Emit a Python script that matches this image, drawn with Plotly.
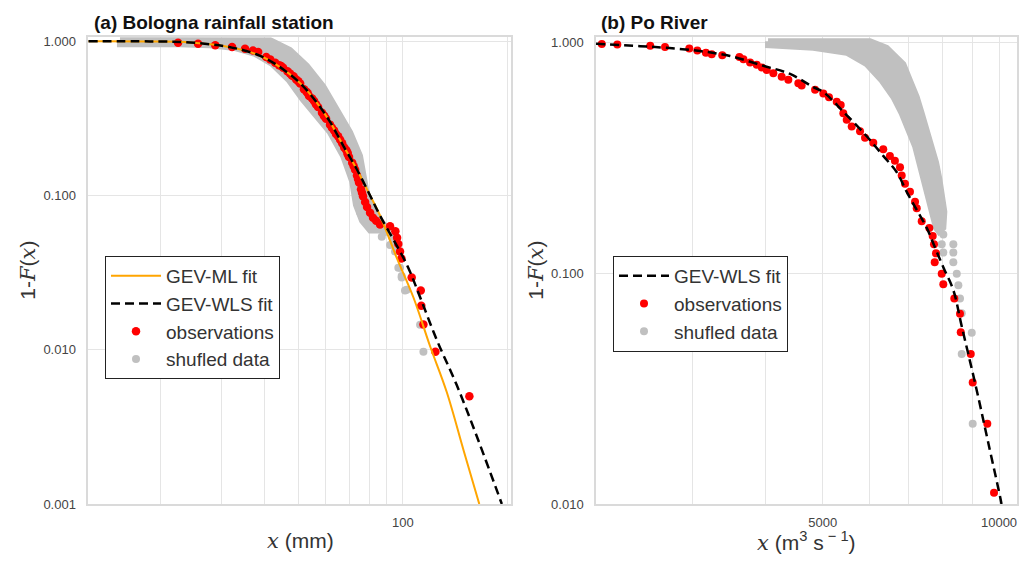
import plotly.graph_objects as go

FONT = "Arial, 'Liberation Sans', sans-serif"

# ---------------- Panel (a): Bologna rainfall station ----------------
obs_a_x = [22.5, 25.7, 28.8, 32.2, 35.1, 37.0, 38.3, 40.4, 41.5, 42.9, 44.0, 44.6, 45.2, 46.5, 47.3, 47.9,
           48.5, 49.3, 50.0, 50.6, 51.9, 52.8, 53.2, 53.7, 54.8, 55.5, 56.2, 57.0, 58.5, 59.2, 59.5,
           60.1, 61.7, 62.5, 63.4, 64.2, 65.1, 66.0, 66.9, 67.8, 68.7, 69.3, 69.4, 70.0, 71.5, 72.2,
           72.9, 73.8, 74.3, 74.8, 75.8, 76.3, 76.8, 77.9, 78.9, 80.5, 82.1, 83.8, 86.0,
           91.9, 95.2, 96.3, 97.1, 98.2, 99.1, 106.1, 112.7, 113.1, 114.7, 124.2, 155.6]
obs_a_y = [0.978, 0.964, 0.943, 0.916, 0.895, 0.870, 0.851, 0.791, 0.760, 0.725, 0.700, 0.690, 0.674, 0.640, 0.617, 0.600,
           0.590, 0.565, 0.550, 0.533, 0.488, 0.470, 0.460, 0.441, 0.425, 0.4095, 0.390, 0.375, 0.3435, 0.330, 0.325,
           0.3147, 0.288, 0.275, 0.264, 0.250, 0.2417, 0.230, 0.218, 0.205, 0.197, 0.190, 0.185, 0.1777, 0.1628, 0.155,
           0.147, 0.1346, 0.128, 0.1215, 0.1096, 0.104, 0.099, 0.0907, 0.0842, 0.0772, 0.0717, 0.0686, 0.0648,
           0.0632, 0.0587, 0.0533, 0.0485, 0.0434, 0.0390, 0.0294, 0.0242, 0.0193, 0.0146, 0.0097, 0.0050]

shuf_a_x = [75.3, 78.8, 82.3, 87.0, 91.9, 95.0, 98.2, 99.3, 101.5, 112.2, 114.7,
            78.8, 84.2, 88.9, 93.0, 94.0, 96.1, 97.1, 99.3, 102.7]
shuf_a_y = [0.078, 0.0707, 0.0626, 0.0541, 0.0478, 0.0434, 0.034, 0.0294, 0.0242, 0.0145, 0.0097,
            0.0763, 0.0656, 0.0579, 0.0541, 0.0504, 0.0455, 0.034, 0.0301, 0.0245]

# outline of the dense cloud of shuffled samples
band_a_x = [15.3, 26.1, 34.0, 41.5, 47.3, 52.9, 59.0, 64.5, 70.5, 75.3, 77.4, 78.9, 84.2, 89.9,
            86.0, 80.5, 76.3, 73.3, 71.5, 67.3, 61.7, 56.3, 51.4, 47.0, 42.0, 37.5, 32.9, 27.8, 22.8, 15.3, 15.3]
band_a_y = [1.02, 1.02, 1.035, 1.015, 0.877, 0.694, 0.510, 0.364, 0.2563, 0.1804, 0.1346, 0.1004, 0.0742, 0.0611,
            0.0593, 0.0593, 0.0686, 0.0868, 0.1233, 0.1804, 0.2563, 0.3287, 0.4216, 0.557, 0.714, 0.827, 0.903, 0.943, 0.957, 0.957, 1.02]

wls_a_x = [12.4, 18.7, 24.4, 31.8, 38.0, 43.4, 50.6, 56.5, 61.7, 67.4, 73.7, 80.5, 86.0, 102.7, 112.2,
           125.3, 143.1, 165.0, 193.0]
wls_a_y = [1.0, 0.997, 0.982, 0.915, 0.82, 0.70, 0.535, 0.40, 0.30, 0.21, 0.148, 0.10, 0.074, 0.0357, 0.0219,
           0.0116, 0.0059, 0.0026, 0.00100]

ml_a_x = [12.4, 18.7, 24.4, 31.8, 38.0, 43.4, 50.6, 56.5, 61.7, 67.4, 73.7, 80.5, 86.0, 96.1, 107.3,
          119.9, 133.9, 150.0, 166.2]
ml_a_y = [1.0, 0.997, 0.982, 0.915, 0.82, 0.70, 0.535, 0.40, 0.30, 0.21, 0.148, 0.10, 0.0742, 0.0394, 0.0219,
          0.01054, 0.00532, 0.0022, 0.0010]

xt_a_vals = [20, 30, 40, 50, 60, 70, 80, 90, 100, 200]
xt_a_text = ["", "", "", "", "", "", "", "", "100", ""]
yt_a_vals = [0.001, 0.01, 0.1, 1.0]
yt_a_text = ["0.001", "0.010", "0.100", "1.000"]

# ---------------- Panel (b): Po River ----------------
obs_b_x = [2098, 2230, 2538, 2690, 2959, 3054, 3159, 3232, 3369, 3604, 3661, 3758, 3858, 3935, 4012,
           4118, 4255, 4368, 4543, 4603, 4852, 5012, 5125, 5283, 5367, 5422, 5495, 5604, 5790, 5905,
           6100, 6344, 6512, 6641, 6776, 6821, 6910, 7047, 7188, 7236, 7379, 7603, 7705, 7744, 7806,
           7766, 7983, 8033, 8388, 8578, 8603, 8948, 9017, 9550, 9805]
obs_b_y = [0.988, 0.9825, 0.969, 0.957, 0.9447, 0.9264, 0.9048, 0.8906, 0.8819, 0.8674, 0.8481, 0.8203, 0.8020, 0.7811, 0.7614,
           0.7364, 0.7128, 0.6902, 0.6676, 0.6528, 0.6258, 0.6017, 0.5803, 0.5542, 0.5365, 0.4944, 0.4630, 0.4335, 0.4128, 0.3869,
           0.3684, 0.3449, 0.3230, 0.3076, 0.2884, 0.2655, 0.2447, 0.2256, 0.2045, 0.1914, 0.1681, 0.1574, 0.1451, 0.1336, 0.1221,
           0.1117, 0.0996, 0.0897, 0.0779, 0.0669, 0.0556, 0.0447, 0.0336, 0.0223, 0.0112]

shuf_b_x = [8033, 7983, 8356, 8033, 8356, 8356, 8470, 8523, 8578, 8636, 8983, 8636, 9017]
shuf_b_y = [0.1475, 0.1336, 0.1336, 0.1231, 0.1231, 0.1117, 0.0996, 0.0889, 0.0779, 0.0672, 0.0553, 0.0447, 0.0223]

band_b_x = [4033, 6021, 6428, 6865, 7047, 7236, 7379, 7526, 7676, 7807, 7908, 8001, 8065, 8033, 7899,
            7807, 7676, 7573, 7426, 7330, 7188, 7000, 6821, 6599, 6305, 5944, 5714, 5495, 4819, 4227, 4033, 4033]
band_b_y = [1.015, 1.015, 0.950, 0.8077, 0.6855, 0.5818, 0.4944, 0.4198, 0.3563, 0.3029, 0.2570, 0.2183, 0.1854, 0.1574, 0.1514,
            0.1574, 0.1854, 0.2183, 0.2570, 0.3029, 0.3563, 0.4198, 0.4944, 0.5818, 0.6855, 0.8077, 0.8616, 0.9048, 0.950, 0.966, 0.976, 1.015]

wls_b_x = [2051, 2438, 2708, 3086, 3473, 3959, 4398, 4819, 5012, 5422, 5944, 6344, 6690, 6957, 7236,
           7526, 7775, 8033, 8356, 8636, 9136, 9576, 10038, 10098]
wls_b_y = [0.990, 0.966, 0.950, 0.920, 0.876, 0.794, 0.732, 0.642, 0.6113, 0.5023, 0.393, 0.323, 0.2745, 0.2256, 0.1884,
           0.1574, 0.1294, 0.1063, 0.0846, 0.059, 0.0321, 0.01865, 0.0108, 0.0100]

xt_b_vals = [3000, 4000, 5000, 6000, 7000, 8000, 9000, 10000]
xt_b_text = ["", "", "5000", "", "", "", "", "10000"]
yt_b_vals = [0.01, 0.1, 1.0]
yt_b_text = ["0.010", "0.100", "1.000"]

GRAY = "#c0c0c0"
RED = "#ff0000"
ORANGE = "#ffa500"

fig = go.Figure()

# ---- panel a traces
fig.add_trace(go.Scatter(x=band_a_x, y=band_a_y, mode="lines", fill="toself", fillcolor=GRAY,
                         line=dict(color=GRAY, width=6), showlegend=False, hoverinfo="skip",
                         xaxis="x", yaxis="y"))
fig.add_trace(go.Scatter(x=shuf_a_x, y=shuf_a_y, mode="markers", name="shufled data",
                         marker=dict(color=GRAY, size=8), legend="legend", legendrank=4,
                         xaxis="x", yaxis="y"))
fig.add_trace(go.Scatter(x=obs_a_x, y=obs_a_y, mode="markers", name="observations",
                         marker=dict(color=RED, size=8.5), legend="legend", legendrank=3,
                         xaxis="x", yaxis="y"))
fig.add_trace(go.Scatter(x=ml_a_x, y=ml_a_y, mode="lines", name="GEV-ML fit",
                         line=dict(color=ORANGE, width=2, shape="spline"), legend="legend", legendrank=1,
                         xaxis="x", yaxis="y"))
fig.add_trace(go.Scatter(x=wls_a_x, y=wls_a_y, mode="lines", name="GEV-WLS fit",
                         line=dict(color="black", width=2.5, dash="9px,5px", shape="spline"),
                         legend="legend", legendrank=2, xaxis="x", yaxis="y"))

# ---- panel b traces
fig.add_trace(go.Scatter(x=band_b_x, y=band_b_y, mode="lines", fill="toself", fillcolor=GRAY,
                         line=dict(color=GRAY, width=6), showlegend=False, hoverinfo="skip",
                         xaxis="x2", yaxis="y2"))
fig.add_trace(go.Scatter(x=shuf_b_x, y=shuf_b_y, mode="markers", name="shufled data",
                         marker=dict(color=GRAY, size=8), legend="legend2", legendrank=4,
                         xaxis="x2", yaxis="y2"))
fig.add_trace(go.Scatter(x=obs_b_x, y=obs_b_y, mode="markers", name="observations",
                         marker=dict(color=RED, size=8), legend="legend2", legendrank=3,
                         xaxis="x2", yaxis="y2"))
fig.add_trace(go.Scatter(x=wls_b_x, y=wls_b_y, mode="lines", name="GEV-WLS fit",
                         line=dict(color="black", width=2.5, dash="9px,5px", shape="spline"),
                         legend="legend2", legendrank=2, xaxis="x2", yaxis="y2"))

W, H = 1019, 563
ydom = [1 - 511 / H, 1 - 35 / H]

axis_common = dict(type="log", showgrid=True, gridcolor="#e5e5e5", gridwidth=1,
                   showline=True, mirror=True, linecolor="#dadada", linewidth=1.5,
                   zeroline=False, ticks="outside", tickcolor="rgba(0,0,0,0)",
                   tickfont=dict(family=FONT, size=13, color="#444"))

legend_common = dict(xanchor="left", yanchor="top", bgcolor="white", bordercolor="#222", borderwidth=1,
                     font=dict(family=FONT, size=19, color="#333"), tracegroupgap=0, itemwidth=50)

fig.update_layout(
    width=W, height=H, autosize=False,
    margin=dict(l=0, r=0, t=0, b=0),
    paper_bgcolor="white", plot_bgcolor="white",
    font=dict(family=FONT, color="#333"),
    xaxis=dict(axis_common, domain=[88.3 / W, 510.7 / W], range=[1.0934, 2.3112],
               tickvals=xt_a_vals, ticktext=xt_a_text, ticklen=6, anchor="y"),
    yaxis=dict(axis_common, domain=ydom, range=[-3, 0.0254],
               tickvals=yt_a_vals, ticktext=yt_a_text, ticklen=8, anchor="x"),
    xaxis2=dict(axis_common, domain=[596 / W, 1017 / W], range=[3.3119, 4.0307],
                tickvals=xt_b_vals, ticktext=xt_b_text, ticklen=6, anchor="y2"),
    yaxis2=dict(axis_common, domain=ydom, range=[-2, 0.0234],
                tickvals=yt_b_vals, ticktext=yt_b_text, ticklen=8, anchor="x2"),
    legend=dict(legend_common, x=105 / W, y=1 - 258 / H),
    legend2=dict(legend_common, x=613 / W, y=1 - 258 / H),
    annotations=[
        dict(text="<b>(a) Bologna rainfall station</b>", x=92 / W, y=1 - 33 / H, xref="paper", yref="paper",
             xanchor="left", yanchor="bottom", showarrow=False, font=dict(family=FONT, size=19, color="#111")),
        dict(text="<b>(b) Po River</b>", x=599 / W, y=1 - 33 / H, xref="paper", yref="paper",
             xanchor="left", yanchor="bottom", showarrow=False, font=dict(family=FONT, size=19, color="#111")),
        dict(text="<span style='font-family:DejaVu Serif'><i>x</i></span> (mm)", x=300 / W, y=1 - 549 / H,
             xref="paper", yref="paper", xanchor="center", yanchor="middle", showarrow=False,
             font=dict(family=FONT, size=21, color="#333")),
        dict(text="<span style='font-family:DejaVu Serif'><i>x</i></span> (m<sup>3</sup> s<sup> − 1</sup>)",
             x=806 / W, y=1 - 549 / H,
             xref="paper", yref="paper", xanchor="center", yanchor="middle", showarrow=False,
             font=dict(family=FONT, size=21, color="#333")),
        dict(text="1-<span style='font-family:DejaVu Serif'><i>F</i></span>(<span style='font-family:DejaVu Serif'><i>x</i></span>)",
             x=28 / W, y=1 - 273 / H, textangle=-90,
             xref="paper", yref="paper", xanchor="center", yanchor="middle", showarrow=False,
             font=dict(family=FONT, size=21, color="#333")),
        dict(text="1-<span style='font-family:DejaVu Serif'><i>F</i></span>(<span style='font-family:DejaVu Serif'><i>x</i></span>)",
             x=536 / W, y=1 - 273 / H, textangle=-90,
             xref="paper", yref="paper", xanchor="center", yanchor="middle", showarrow=False,
             font=dict(family=FONT, size=21, color="#333")),
    ],
)

fig.write_html("out.html")
